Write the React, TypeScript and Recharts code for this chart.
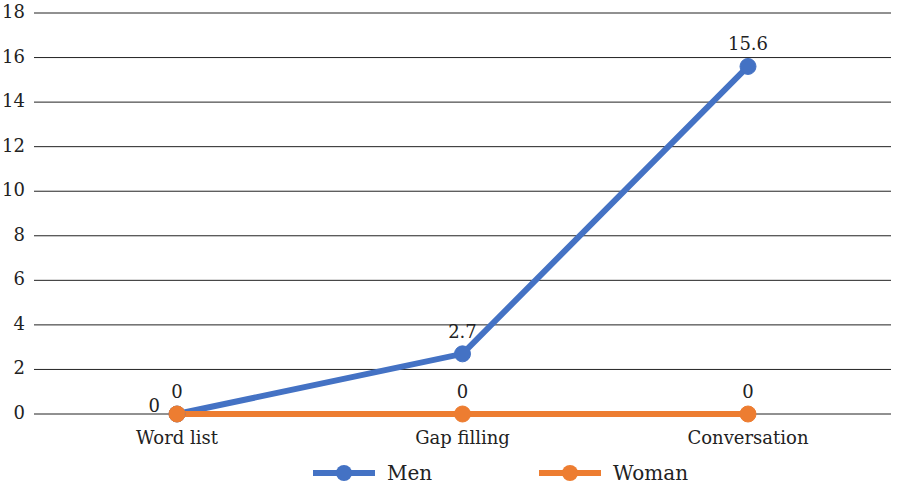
import { LineChart, Line, XAxis, YAxis, CartesianGrid, Legend, LabelList } from 'recharts';

const categories = ['Word list', 'Gap filling', 'Conversation'];
const menValues = [0, 2.7, 15.6];
const womanValues = [0, 0, 0];
const yTicks = [0, 2, 4, 6, 8, 10, 12, 14, 16, 18];

const BLUE = '#4472C4';
const ORANGE = '#ED7D31';
const FONT = 'DejaVu Serif';
const TEXT = '#222';

const chartData = categories.map((name, i) => ({
    name,
    men: menValues[i],
    woman: womanValues[i],
}));

// Men's first label sits left of the point, all others above
const makeLabel = (leftFirst: boolean) => (props: any) => {
    const { x, y, value, index } = props;
    const left = leftFirst && index === 0;
    return (
        <text
            x={left ? x - 17 : x}
            y={left ? y - 7 : y - 21}
            textAnchor={left ? 'end' : 'middle'}
            dominantBaseline="middle"
            fontFamily={FONT}
            fontSize={18}
            fill={TEXT}
        >
            {value}
        </text>
    );
};

const XTick = (props: any) => {
    const { x, y, payload } = props;
    return (
        <text x={x} y={y + 19} textAnchor="middle" dominantBaseline="middle" fontFamily={FONT} fontSize={18} fill={TEXT}>
            {payload.value}
        </text>
    );
};

const YTick = (props: any) => {
    const { x, y, payload } = props;
    return (
        <text x={x} y={y} textAnchor="end" dominantBaseline="middle" fontFamily={FONT} fontSize={18} fill={TEXT}>
            {payload.value}
        </text>
    );
};

const renderLegend = () => (
    <div style={{ display: 'flex', alignItems: 'center', height: 36, paddingLeft: 313 }}>
        {[{ name: 'Men', color: BLUE }, { name: 'Woman', color: ORANGE }].map((s, i) => (
            <div key={s.name} style={{ display: 'flex', alignItems: 'center', width: i === 0 ? 226 : 'auto' }}>
                <svg width={62} height={20} style={{ marginRight: 12 }}>
                    <line x1={0} y1={10} x2={62} y2={10} stroke={s.color} strokeWidth={6} />
                    <circle cx={31} cy={10} r={8} fill={s.color} />
                </svg>
                <span style={{ fontFamily: FONT, fontSize: 20, color: TEXT }}>{s.name}</span>
            </div>
        ))}
    </div>
);

export default function App() {
    return (
        <div>
            <style>{'body{margin:0}'}</style>
            <LineChart width={899} height={491} data={chartData} margin={{ top: 13, right: 8, left: 0, bottom: 0 }}>
                <CartesianGrid vertical={false} stroke="#222" strokeWidth={1} />
                <XAxis
                    dataKey="name"
                    axisLine={false}
                    tickLine={false}
                    height={41}
                    tickMargin={0}
                    padding={{ left: 143, right: 143 }}
                    tick={<XTick />}
                />
                <YAxis
                    domain={[0, 18]}
                    ticks={yTicks}
                    width={34}
                    axisLine={false}
                    tickLine={false}
                    tickMargin={3}
                    tick={<YTick />}
                />
                <Legend verticalAlign="bottom" height={36} content={renderLegend} />
                <Line
                    dataKey="men"
                    stroke={BLUE}
                    strokeWidth={6}
                    dot={{ r: 8, fill: BLUE, stroke: BLUE, strokeWidth: 1 }}
                    activeDot={false}
                    isAnimationActive={false}
                >
                    <LabelList dataKey="men" content={makeLabel(true)} />
                </Line>
                <Line
                    dataKey="woman"
                    stroke={ORANGE}
                    strokeWidth={6}
                    dot={{ r: 8, fill: ORANGE, stroke: ORANGE, strokeWidth: 1 }}
                    activeDot={false}
                    isAnimationActive={false}
                >
                    <LabelList dataKey="woman" content={makeLabel(false)} />
                </Line>
            </LineChart>
        </div>
    );
}
